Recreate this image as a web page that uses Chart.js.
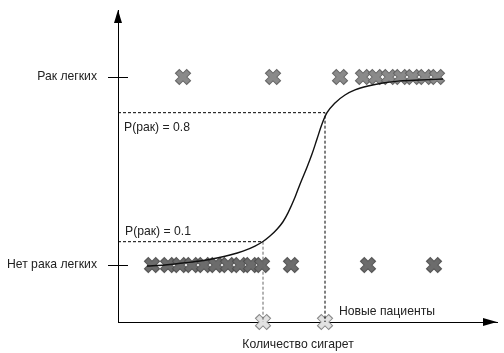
<!DOCTYPE html>
<html>
<head>
<meta charset="utf-8">
<script src="https://cdn.jsdelivr.net/npm/chart.js@4"></script>
<style>
  html, body { margin: 0; padding: 0; background: #fff; }
  #wrap { width: 504px; height: 353px; }
</style>
</head>
<body>
<div id="wrap"><canvas id="chart"></canvas></div>
<script>
// category labels of the y axis (0 = no cancer, 1 = cancer)
const yLabels = ['Нет рака легких', 'Рак легких'];

// patients with lung cancer (x = cigarettes, arbitrary units)
const cancerX = [6.5, 15.5, 22.2, 24.5, 25.8, 27.1, 28.3, 29.5, 30.7, 31.9];
// patients without lung cancer
const noCancerX = [3.4, 5.0, 6.2, 7.4, 8.6, 9.8, 11.0, 12.2, 13.3, 14.4, 17.3, 25.0, 31.6];
// new patients on the x axis
const newX = [14.5, 20.7];

// logistic curve
const curveX = [2.9, 4.7, 6.5, 8.2, 9.9, 11.2, 12.5, 13.7, 14.5, 15.2, 15.9, 16.5, 17.0, 17.7, 18.2, 18.9, 19.4, 19.9, 20.4, 20.9, 21.7, 22.7, 23.7, 25.0, 26.5, 28.2, 30.2, 32.5];
const curveY = [-0.005, 0.0, 0.011, 0.021, 0.037, 0.053, 0.074, 0.101, 0.125, 0.154, 0.19, 0.23, 0.277, 0.36, 0.43, 0.52, 0.59, 0.67, 0.75, 0.81, 0.862, 0.904, 0.931, 0.952, 0.968, 0.979, 0.984, 0.989];

// probability thresholds marked with dashed lines
const pLow = 0.124, pLowX = 14.5;
const pHigh = 0.81, pHighX = 20.7;

const FONT = '"Liberation Sans", Arial, sans-serif';

function crossImg(fill, edge) {
  const c = document.createElement('canvas');
  c.width = 20; c.height = 20;
  const g = c.getContext('2d');
  g.lineCap = 'butt';
  const draw = (a, b, w, col) => {
    g.strokeStyle = col; g.lineWidth = w;
    g.beginPath();
    g.moveTo(a, a); g.lineTo(b, b);
    g.moveTo(b, a); g.lineTo(a, b);
    g.stroke();
  };
  draw(4, 16, 6.5, edge);
  draw(4.8, 15.2, 4.6, fill);
  return c;
}

const topCross = crossImg('#8a8a8a', '#666666');
const botCross = crossImg('#6c6c6c', '#515151');
const newCross = crossImg('#e2e2e2', '#8a8a8a');

const extras = {
  id: 'extras',
  afterDraw(chart) {
    const { ctx, chartArea: a, scales: { x, y } } = chart;
    ctx.save();
    ctx.fillStyle = '#000';
    ctx.strokeStyle = '#000';
    ctx.lineWidth = 1;
    // ticks crossing the y axis
    [0, 1].forEach(v => {
      const py = Math.round(y.getPixelForValue(v)) + 0.5;
      ctx.beginPath();
      ctx.moveTo(a.left - 10, py);
      ctx.lineTo(a.left + 10, py);
      ctx.stroke();
    });
    // arrows
    ctx.beginPath();
    ctx.moveTo(a.left, a.top);
    ctx.lineTo(a.left - 4, a.top + 13);
    ctx.lineTo(a.left + 4, a.top + 13);
    ctx.closePath();
    ctx.fill();
    ctx.beginPath();
    ctx.moveTo(a.right, a.bottom);
    ctx.lineTo(a.right - 14, a.bottom - 4);
    ctx.lineTo(a.right - 14, a.bottom + 4);
    ctx.closePath();
    ctx.fill();
    // annotation texts
    ctx.fillStyle = '#222';
    ctx.font = '12.2px ' + FONT;
    ctx.textBaseline = 'middle';
    ctx.textAlign = 'left';
    ctx.fillText('P(рак) = 0.8', a.left + 6, y.getPixelForValue(pHigh) + 15);
    ctx.fillText('P(рак) = 0.1', a.left + 7, y.getPixelForValue(pLow) - 10);
    ctx.fillText('Новые пациенты', x.getPixelForValue(newX[1]) + 14, a.bottom - 10);
    ctx.textAlign = 'center';
    ctx.fillText('Количество сигарет', 298, a.bottom + 23);
    ctx.restore();
  }
};

const pts = (xs, v) => xs.map(px => ({ x: px, y: v }));

new Chart(document.getElementById('chart'), {
  type: 'scatter',
  data: {
    datasets: [
      {
        data: curveX.map((v, i) => ({ x: v, y: curveY[i] })),
        showLine: true, borderColor: '#111', borderWidth: 1.4,
        pointRadius: 0, cubicInterpolationMode: 'monotone', order: 0, clip: false
      },
      {
        data: [{ x: 0, y: pHigh }, { x: pHighX, y: pHigh }, { x: pHighX, y: -0.303 }],
        showLine: true, borderColor: '#000', borderWidth: 1, borderDash: [3, 2],
        pointRadius: 0, order: 1, clip: false
      },
      {
        data: [{ x: 0, y: pLow }, { x: pLowX, y: pLow }],
        showLine: true, borderColor: '#000', borderWidth: 1, borderDash: [3, 2],
        pointRadius: 0, order: 1, clip: false
      },
      {
        data: [{ x: pLowX, y: pLow }, { x: pLowX, y: -0.303 }],
        showLine: true, borderColor: '#666', borderWidth: 1, borderDash: [3, 2],
        pointRadius: 0, order: 1, clip: false
      },
      { data: pts(cancerX, 1), pointStyle: topCross, order: 2, clip: false },
      { data: pts(noCancerX, 0), pointStyle: botCross, order: 2, clip: false },
      { data: pts(newX, -0.303), pointStyle: newCross, order: 2, clip: false }
    ]
  },
  options: {
    responsive: true,
    maintainAspectRatio: false,
    animation: false,
    layout: { autoPadding: false, padding: { top: 10, right: 7, left: 0, bottom: 0 } },
    plugins: { legend: { display: false }, tooltip: { enabled: false } },
    scales: {
      x: {
        type: 'linear', min: 0, max: 37.9,
        grid: { display: true, drawOnChartArea: false, drawTicks: false },
        border: { display: true, color: '#000', width: 1 },
        ticks: { display: false },
        afterFit: s => { s.height = 31; s.paddingLeft = 0; s.paddingRight = 0; }
      },
      y: {
        type: 'linear', min: -0.303, max: 1.356,
        grid: { display: true, drawOnChartArea: false, drawTicks: false },
        border: { display: true, color: '#000', width: 1 },
        afterBuildTicks: s => { s.ticks = [{ value: 0 }, { value: 1 }]; },
        ticks: {
          padding: 21, color: '#222',
          font: { family: FONT, size: 12.2 },
          callback: v => yLabels[v]
        },
        afterFit: s => { s.width = 118; s.paddingTop = 0; s.paddingBottom = 0; }
      }
    }
  },
  plugins: [extras]
});
</script>
</body>
</html>
